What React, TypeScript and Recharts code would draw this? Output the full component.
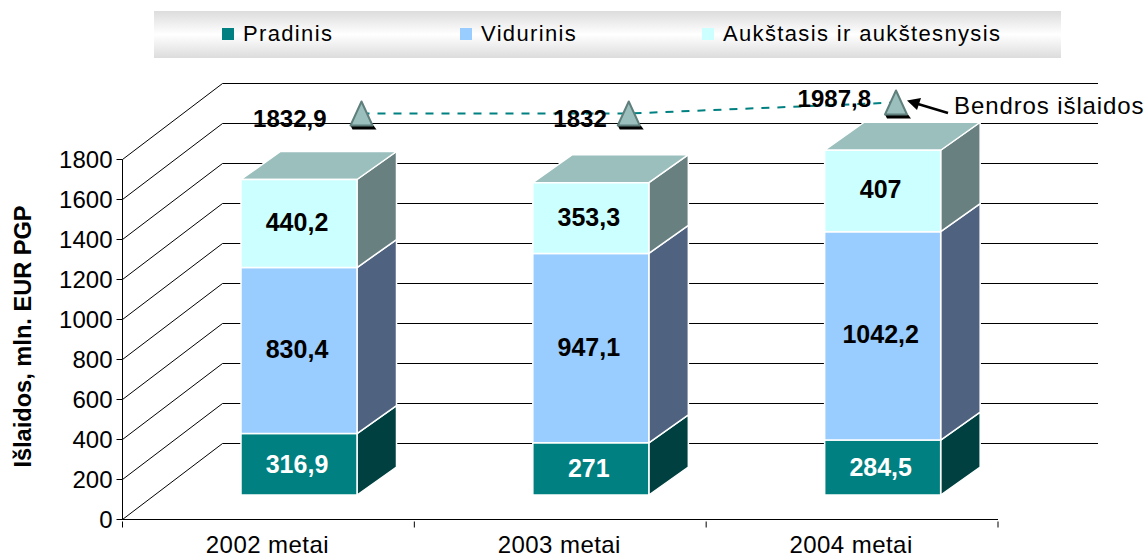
import { Bar, CartesianGrid, ComposedChart, LabelList, Legend, Line, XAxis, YAxis } from "recharts"

const FONT = '"Liberation Sans", Arial, sans-serif'

const YEARS = ["2002 metai", "2003 metai", "2004 metai"]
const PRADINIS = [316.9, 271, 284.5]
const VIDURINIS = [830.4, 947.1, 1042.2]
const AUKSTASIS = [440.2, 353.3, 407]
const BENDROS = [1832.9, 1832, 1987.8]
const Y_TICKS = [0, 200, 400, 600, 800, 1000, 1200, 1400, 1600, 1800]

const data = YEARS.map((year, i) => ({
  year,
  pradinis: PRADINIS[i],
  vidurinis: VIDURINIS[i],
  aukstasis: AUKSTASIS[i],
  bendros: BENDROS[i],
}))

// the plot runs x 122.5..998, y 83.5..519.5 (half pixels keep the 1px lines sharp)
const PLOT_W = 875.5
const WALL_DX = 100
const WALL_DY = -76
const BAR_DX = 30.5
const BAR_DY = -22.5
const SIDE_DX = 39.5
const SIDE_DY = -28
const TOP_FACE = "#9abfbc"

// where each total label sits around its marker
const TOTAL_LABEL_GAP = [35, 22, 25]
const TOTAL_LABEL_RISE = [5, 5, -4]

const comma = (v: number) => String(v).replace(".", ",")

function Wall(props: any) {
  const { x1, x2, y1 } = props
  // the grid also hands over the plot's top edge, which is no tick
  if (y1 < 150) return null
  const last = y1 > 515
  return (
    <g fill="none" stroke="#000" strokeWidth={1}>
      <path d={`M${x1} ${y1}L${x1 + WALL_DX} ${y1 + WALL_DY}H${x2 + WALL_DX}`} />
      {!last && <path d={`M${x1} ${y1}V${y1 + 40}`} />}
    </g>
  )
}

function Box(props: any) {
  const { x, y, width, height, fill, side, top, trim = 0 } = props
  const l = x + BAR_DX
  const r = l + width
  const t = y + BAR_DY
  const b = t + height - trim
  return (
    <g stroke="#fff" strokeWidth={1.5} strokeLinejoin="round">
      <path d={`M${r} ${t}L${r + SIDE_DX} ${t + SIDE_DY}V${b + SIDE_DY}L${r} ${b}Z`} fill={side} />
      {top && <path d={`M${l} ${t}L${l + SIDE_DX} ${t + SIDE_DY}H${r + SIDE_DX}L${r} ${t}Z`} fill={top} />}
      <rect x={l} y={t} width={width} height={b - t} fill={fill} />
    </g>
  )
}

function BoxLabel(props: any) {
  const { x, y, width, height, value, ink } = props
  return (
    <text
      x={x + BAR_DX + width / 2 - 2}
      y={y + BAR_DY + height / 2 - 1.5}
      textAnchor="middle"
      dominantBaseline="central"
      fill={ink}
      fontFamily={FONT}
      fontSize={25}
      fontWeight="bold"
    >
      {comma(value)}
    </text>
  )
}

function Pyramid(props: any) {
  const { cx, cy, index } = props
  const p = `${cx},${cy - 12} ${cx + 11},${cy + 12} ${cx - 11},${cy + 12}`
  return (
    <g key={index}>
      <path d={`M${cx - 11} ${cy + 12}H${cx + 12}L${cx + 15} ${cy + 16}H${cx - 9}Z`} fill="#000" />
      <polygon points={p} fill={TOP_FACE} stroke="#5f7f7c" strokeWidth={2} strokeLinejoin="round" />
    </g>
  )
}

function TotalLabel(props: any) {
  const { x, y, value, index } = props
  return (
    <text
      x={x - TOTAL_LABEL_GAP[index]}
      y={y + TOTAL_LABEL_RISE[index]}
      textAnchor="end"
      dominantBaseline="central"
      fontFamily={FONT}
      fontSize={24}
      fontWeight="bold"
      fill="#000"
    >
      {comma(value)}
    </text>
  )
}

function YearTick(props: any) {
  const { x, y, payload, index } = props
  const half = PLOT_W / 6
  const base = y - 6
  return (
    <g>
      {index === 0 && <line x1={x - half} x2={x - half} y1={base} y2={base + 6} stroke="#000" />}
      <line x1={x + half} x2={x + half} y1={base} y2={base + 6} stroke="#000" />
      <text x={x - 1} y={base + 31} textAnchor="middle" fontFamily={FONT} fontSize={24} letterSpacing={0.45} fill="#000">
        {payload.value}
      </text>
    </g>
  )
}

const LEGEND_LEFT = [68, 306, 548]

function LegendBand({ payload }: any) {
  const items = payload.filter((entry: any) => entry.type !== "none")
  return (
    <div
      style={{
        position: "relative",
        width: 907,
        height: 47,
        background: "linear-gradient(#dcdcdc, #ffffff 50%, #dcdcdc)",
        fontFamily: FONT,
        fontSize: 22,
        letterSpacing: 1.35,
        color: "#000",
      }}
    >
      {items.map((entry: any, i: number) => (
        <div key={entry.value} style={{ position: "absolute", left: LEGEND_LEFT[i], top: 0, height: 47 }}>
          <span style={{ position: "absolute", left: 0, top: 17, width: 12, height: 12, background: entry.color }} />
          <span style={{ position: "absolute", left: 21, top: 10, whiteSpace: "nowrap" }}>{entry.value}</span>
        </div>
      ))}
    </div>
  )
}

export default function App() {
  return (
    <div style={{ position: "absolute", left: 0, top: 0, width: 1144, height: 556, overflow: "hidden" }}>
      <ComposedChart
        width={1144}
        height={556}
        data={data}
        barSize={116}
        margin={{ top: 36.5, right: 146, bottom: 0, left: 0 }}
      >
        <Legend
          verticalAlign="top"
          align="left"
          itemSorter={null}
          content={<LegendBand />}
          wrapperStyle={{ left: 154, top: 11, width: 907, height: 47 }}
        />
        <CartesianGrid vertical={false} horizontal={(p: any) => <Wall key={p.index} {...p} />} />
        <XAxis dataKey="year" height={36.5} tickLine={false} tick={<YearTick />} interval={0} stroke="#000" />
        <XAxis xAxisId="total" dataKey="year" hide scale="point" padding={{ left: 239, right: 102 }} />
        <YAxis
          width={122.5}
          domain={[0, 2180]}
          ticks={Y_TICKS}
          interval={0}
          axisLine={false}
          tickSize={6}
          tickMargin={4}
          stroke="#000"
          tick={{ fill: "#000", fontSize: 24, fontFamily: FONT }}
          label={{
            value: "Išlaidos, mln. EUR PGP",
            angle: -90,
            position: "insideLeft",
            dx: 18,
            dy: 35,
            fill: "#000",
            style: { fontFamily: FONT, fontSize: 23.6, fontWeight: "bold", textAnchor: "middle" },
          }}
        />
        <YAxis yAxisId="total" hide domain={[-3886, 2255]} />
        <Bar
          dataKey="pradinis"
          name="Pradinis"
          stackId="a"
          fill="#008080"
          isAnimationActive={false}
          shape={(p: any) => <Box {...p} side="#004040" trim={2} />}
        >
          <LabelList dataKey="pradinis" content={<BoxLabel ink="#fff" />} />
        </Bar>
        <Bar
          dataKey="vidurinis"
          name="Vidurinis"
          stackId="a"
          fill="#99ccff"
          isAnimationActive={false}
          shape={(p: any) => <Box {...p} side="#4f6380" />}
        >
          <LabelList dataKey="vidurinis" content={<BoxLabel ink="#000" />} />
        </Bar>
        <Bar
          dataKey="aukstasis"
          name="Aukštasis ir aukštesnysis"
          stackId="a"
          fill="#ccffff"
          isAnimationActive={false}
          shape={(p: any) => <Box {...p} side="#688080" top={TOP_FACE} />}
        >
          <LabelList dataKey="aukstasis" content={<BoxLabel ink="#000" />} />
        </Bar>
        <Line
          xAxisId="total"
          yAxisId="total"
          dataKey="bendros"
          legendType="none"
          stroke="#008080"
          strokeWidth={2}
          strokeDasharray="8 8"
          dot={(p: any) => <Pyramid key={p.index} {...p} />}
          activeDot={false}
          isAnimationActive={false}
        >
          <LabelList dataKey="bendros" content={<TotalLabel />} />
        </Line>
        <g>
          <path d="M948 113L918 104" stroke="#000" strokeWidth={2.5} />
          <path d="M907 100.5L921 98L917 110Z" fill="#000" />
          <text x={954} y={114} fontFamily={FONT} fontSize={24} letterSpacing={0.9} fill="#000">
            Bendros išlaidos
          </text>
        </g>
      </ComposedChart>
    </div>
  )
}
